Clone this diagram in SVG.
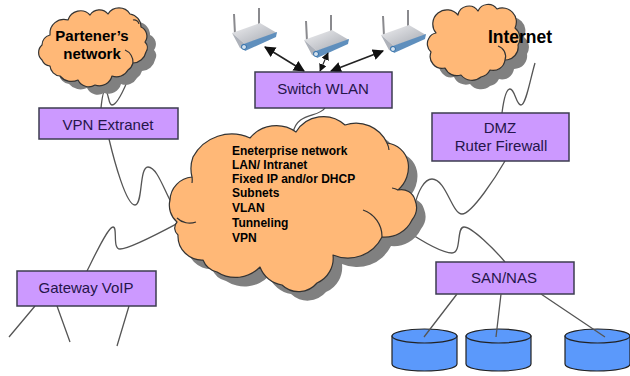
<svg xmlns="http://www.w3.org/2000/svg" width="630" height="376" viewBox="0 0 630 376">
<style>
.box{fill:#cc99ff;stroke:#3c3c50;stroke-width:1.5}
.lbl{font-family:"Liberation Sans",Arial,sans-serif;font-size:15px;fill:#25154a;text-anchor:middle}
.bold{font-family:"Liberation Sans",Arial,sans-serif;font-weight:bold;fill:#000}
.cloud{fill:#ffb877;stroke:#333;stroke-width:1.2;stroke-linejoin:round}
.shadow{fill:#808080;stroke:none}
.fold{fill:none;stroke:#333;stroke-width:1.2}
.wire{fill:none;stroke:#555;stroke-width:1.3}
.arrow{fill:none;stroke:#222;stroke-width:1.6;marker-start:url(#head);marker-end:url(#head)}
.short{stroke-width:1.1}
.cylb{fill:#5b99fb;stroke:#222;stroke-width:1.2}
</style>
<defs>
<marker id="head" viewBox="0 0 10 10" refX="9" refY="5" markerWidth="7" markerHeight="7" orient="auto-start-reverse" markerUnits="strokeWidth"><path d="M0 0L10 5L0 10z" fill="#111"/></marker>
<linearGradient id="rb" x1="0" y1="0" x2="1" y2="1"><stop offset="0" stop-color="#f0f0f2"/><stop offset="1" stop-color="#a4a8b0"/></linearGradient>
<path id="pc" d="M50 35A14 14 0 0 1 68 20A13 13 0 0 1 90 15A11 11 0 0 1 108 14A13 13 0 0 1 130 14A13 13 0 0 1 141 27A10 10 0 0 1 145 42A8 8 0 0 1 146 52A14 14 0 0 1 133 63A12 12 0 0 1 128 70A13 13 0 0 1 112 76A13 13 0 0 1 95 85A12 12 0 0 1 78 80A15 15 0 0 1 60 76A11 11 0 0 1 50 66A10 10 0 0 1 42 60A10 10 0 0 1 42 45A11 11 0 0 1 50 35Z"/>
<path id="ic" d="M436 33A14 14 0 0 1 458 15A11 11 0 0 1 478 11A11 11 0 0 1 497 9A14 14 0 0 1 515 28A13 13 0 0 1 518 45A13 13 0 0 1 505 60A12 12 0 0 1 490 70A13 13 0 0 1 481 77A14 14 0 0 1 461 75A13 13 0 0 1 445 68A12 12 0 0 1 431 52A11 11 0 0 1 429 38A10 10 0 0 1 436 33Z"/>
<path id="ec" d="M193 157A44 44 0 0 1 250 138A34 34 0 0 1 296 132A32 32 0 0 1 345 125A34 34 0 0 1 387 143A24 24 0 0 1 408 162A30 30 0 0 1 398 190A14 14 0 0 1 415 200A20 20 0 0 1 412 220A30 30 0 0 1 382 237A38 38 0 0 1 333 255A27 27 0 0 1 317 283A24 24 0 0 1 282 285A28 28 0 0 1 260 267A34 34 0 0 1 217 272A20 20 0 0 1 203 260A24 24 0 0 1 178 235A9 9 0 0 1 177 222A22 22 0 0 1 170 200A24 24 0 0 1 192 177A34 34 0 0 1 193 157Z"/>
<g id="router">
<path d="M235 34L234 14M259 26L259 8" stroke="#8a8a8e" stroke-width="2" fill="none"/>
<path d="M232 33L260 23L277 33L245 44Z" fill="url(#rb)"/>
<path d="M232 33L245 44L245 50L240 48Z" fill="#aeb2ba"/>
<path d="M241 45L277 32L276 37L245 51Z" fill="#5f8fbd"/>
<circle cx="244" cy="47" r="2.5" fill="#d5e2ee" stroke="#2f6ea8"/>
</g>
</defs>
<g id="connectors">
<path class="wire" d="M101 108C102 98 103 91 105 91C109 91 108 105 112 105C118 105 126 85 131 72"/>
<path class="wire" d="M109 139C114 160 126 205 135 205C143 205 139 167 148 167C157 167 164 190 172 204"/>
<path class="wire" d="M87 271C95 255 108 227 113 227C118 227 112 249 120 249C130 249 165 230 180 222"/>
<path class="wire" d="M325 108C318 118 297 112 293 133"/>
<path class="wire" d="M535 63C530 80 526 105 521 105C516 105 515 89 510 89C505 89 503 105 502 113"/>
<path class="wire" d="M505 161C497 175 472 214 462 214C452 214 446 179 432 179C424 179 418 192 415 204"/>
<path class="wire" d="M402 228C420 240 442 253 452 253C462 253 456 227 464 227C472 227 495 250 505 262"/>
<path class="wire" d="M35 306L9 337M57 306L70 342M129 306L117 346"/>
</g>
<g id="partner-cloud"><use href="#pc" class="shadow" x="9" y="8"/><use href="#pc" class="cloud"/><path class="fold" d="M125 50A13 13 0 0 1 133 63M133 20A5 5 0 0 1 139 24"/><text class="bold" font-size="15" x="92" y="41" text-anchor="middle">Partener’s</text><text class="bold" font-size="15" x="92" y="59" text-anchor="middle">network</text></g>
<g id="internet-cloud"><use href="#ic" class="shadow" x="9" y="9"/><use href="#ic" class="cloud"/><path class="fold" d="M498 46A11 11 0 0 1 505 60"/><text class="bold" font-size="17.500" x="520" y="43" text-anchor="middle">Internet</text></g>
<g id="enterprise-cloud"><use href="#ec" class="shadow" x="9" y="9"/><use href="#ec" class="cloud"/><path class="fold" d="M363 210A28 28 0 0 1 382 237M177 218A18 18 0 0 0 196 222M192 177A20 20 0 0 1 192 183M387 143A20 20 0 0 1 389 150M398 190A14 14 0 0 0 392 188"/>
<g class="bold" font-size="12"><text x="232" y="155">Eneterprise network</text><text x="232" y="169">LAN/ Intranet</text><text x="232" y="183">Fixed IP and/or DHCP</text><text x="232" y="197">Subnets</text><text x="232" y="212">VLAN</text><text x="232" y="227">Tunneling</text><text x="232" y="242">VPN</text></g></g>
<g id="router-1"><use href="#router"/></g>
<g id="router-2"><use href="#router" x="72" y="7"/></g>
<g id="router-3"><use href="#router" x="149" y="2"/></g>
<g id="arrows"><path class="arrow" d="M304 71L265 47"/><path class="arrow short" d="M320 71L328 53"/><path class="arrow" d="M331 71L383 51"/></g>
<g id="vpn-extranet"><rect class="box" x="39" y="108" width="139" height="31"/><text class="lbl" x="108" y="130">VPN Extranet</text></g>
<g id="switch-wlan"><rect class="box" x="255" y="72" width="137" height="36"/><text class="lbl" x="323" y="94">Switch WLAN</text></g>
<g id="dmz"><rect class="box" x="432" y="113" width="137" height="48"/><text class="lbl" x="500" y="133">DMZ</text><text class="lbl" x="501" y="151">Ruter Firewall</text></g>
<g id="gateway-voip"><rect class="box" x="17" y="271" width="139" height="35"/><text class="lbl" x="86" y="293">Gateway VoIP</text></g>
<g id="san-nas"><rect class="box" x="436" y="262" width="138" height="32"/><text class="lbl" x="504" y="283">SAN/NAS</text></g>
<g id="disk-1"><path class="cylb" d="M392 336V364C392 368 406 371 424.500 371C443 371 457 368 457 364V336Z"/><ellipse class="cylb" cx="424.500" cy="336" rx="32.500" ry="7"/></g>
<g id="disk-2"><path class="cylb" d="M466 336V364C466 368 480 371 498.500 371C517 371 531 368 531 364V336Z"/><ellipse class="cylb" cx="498.500" cy="336" rx="32.500" ry="7"/></g>
<g id="disk-3"><path class="cylb" d="M565 336V364C565 368 579 371 597 371C616 371 630 368 630 364V336Z"/><ellipse class="cylb" cx="597.500" cy="336" rx="32.500" ry="7"/></g>
<g id="storage-connectors"><path class="wire" d="M457 294L424 337M501 294L496 337M541 294L605 337"/></g>
</svg>
